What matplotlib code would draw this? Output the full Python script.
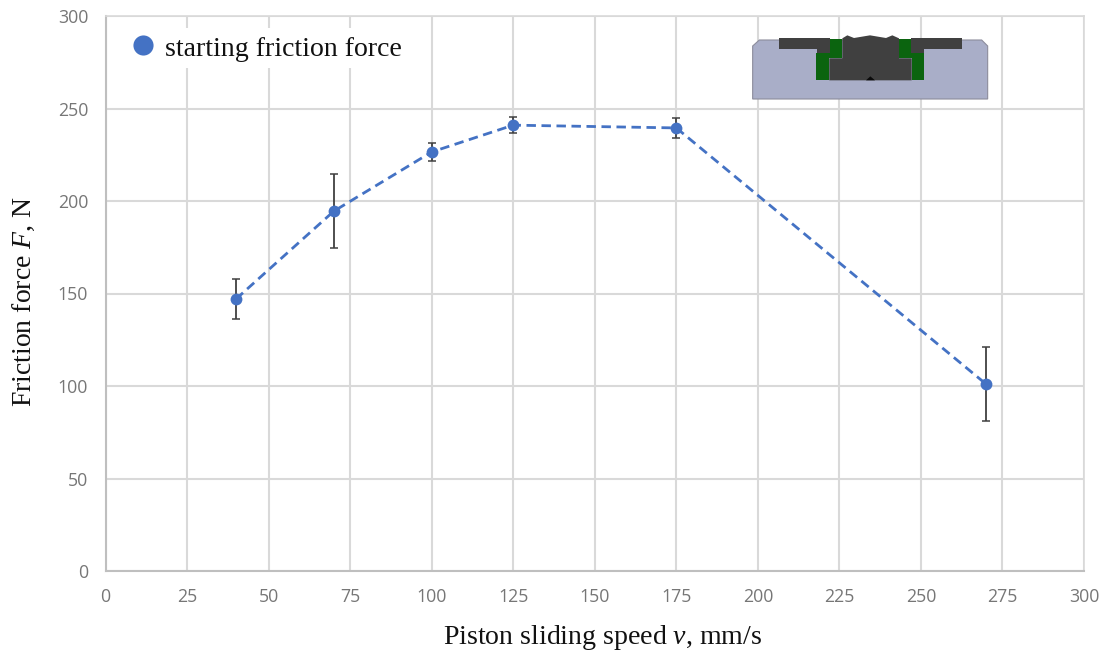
import matplotlib
matplotlib.use('Agg')
import matplotlib.pyplot as plt
from matplotlib.patches import Polygon, Rectangle

plt.rcParams['mathtext.fontset'] = 'custom'
plt.rcParams['mathtext.rm'] = 'Liberation Serif'
plt.rcParams['mathtext.it'] = 'Liberation Serif:italic'

speed = [40, 70, 100, 125, 175, 270]
force = [147, 194.5, 226.5, 241, 239.5, 101]
err = [11, 20, 5, 4.5, 5.5, 20]
x_ticks = list(range(0, 301, 25))
y_ticks = list(range(0, 301, 50))

W, H = 1107, 652
fig = plt.figure(figsize=(W / 100, H / 100), dpi=100)
ax = fig.add_axes([105.5 / W, 1 - 571 / H, (1084 - 105.5) / W, (571 - 16) / H])

ax.set_xlim(0, 300)
ax.set_ylim(0, 300)
ax.set_xticks(x_ticks)
ax.set_yticks(y_ticks)
ax.grid(color='#d9d9d9', lw=1.5)
ax.set_axisbelow(True)
ax.tick_params(axis='x', length=0, labelsize=12.8, labelcolor='#767676', pad=12)
ax.tick_params(axis='y', length=0, labelsize=12.8, labelcolor='#767676', pad=12.5)
for lab in ax.get_xticklabels() + ax.get_yticklabels():
    lab.set_family('Open Sans')
for side in ['top', 'right']:
    ax.spines[side].set_color('#d9d9d9')
    ax.spines[side].set_linewidth(1.2)
for side in ['left', 'bottom']:
    ax.spines[side].set_color('#bfbfbf')
    ax.spines[side].set_linewidth(1.5)

ax.plot(speed, force, color='#4472c4', lw=2.0, ls=(0, (3.4, 2)), zorder=3)
ax.errorbar(speed, force, yerr=err, fmt='none', ecolor='#404040', elinewidth=1.3,
            capsize=3, capthick=1.1, zorder=4)
ax.plot(speed, force, 'o', color='#4472c4', ms=8.5, mec='none', zorder=5)

fig.text(443 / W, 1 - 644 / H, r'Piston sliding speed $\mathit{v}$, mm/s', family='Liberation Serif',
         fontsize=20.1, color='#111111')
fig.text(24 / W, 1 - 302 / H, r'Friction force $\mathit{F}$, N', family='Liberation Serif',
         fontsize=20, color='#111111', rotation=90, ha='center', va='center')

# legend, white patch over the grid
ax.add_patch(Rectangle((125 / W, 1 - 68 / H), 285 / W, 40 / H, transform=fig.transFigure,
                       fc='white', ec='none', zorder=6))
ax.plot([143 / W], [1 - 45 / H], 'o', color='#4472c4', ms=14.5, mec='none',
        transform=fig.transFigure, zorder=7, clip_on=False)
fig.text(165 / W, 1 - 56 / H, 'starting friction force', family='Liberation Serif',
         fontsize=20.1, color='#111111', zorder=8)

# seal drawing, coordinates are in pixels of a 3x crop
ins = fig.add_axes([730 / W, 1 - 115 / H, 280 / W, 95 / H], zorder=10)
ins.set_xlim(0, 840)
ins.set_ylim(285, 0)
ins.axis('off')
body = [(68, 237), (68, 78), (88, 60), (755, 60), (773, 78), (773, 237)]
flange_l = [(147, 55), (300, 55), (300, 98), (260, 98), (260, 88), (147, 88)]
flange_r = [(543, 55), (695, 55), (695, 88), (583, 88), (583, 98), (543, 98)]
green_l = [(300, 57), (337, 57), (337, 115), (298, 115), (298, 181), (258, 181), (258, 100), (300, 100)]
green_r = [(507, 57), (543, 57), (543, 100), (583, 100), (583, 181), (545, 181), (545, 115), (507, 115)]
core = [(337, 55), (352, 46), (372, 54), (420, 46), (468, 54), (487, 46), (507, 55),
        (507, 115), (545, 115), (545, 181), (298, 181), (298, 115), (337, 115)]
notch = [(408, 181), (421, 169), (435, 181)]
ins.add_patch(Polygon(body, fc='#a9aec8', ec='#8c8c9c', lw=0.8))
for pts, col in [(green_l, '#0b640f'), (green_r, '#0b640f'), (core, '#404040'),
                 (flange_l, '#404040'), (flange_r, '#404040'), (notch, '#0a0a0a')]:
    ins.add_patch(Polygon(pts, fc=col, ec='none'))

fig.savefig('out.png', dpi=100)
